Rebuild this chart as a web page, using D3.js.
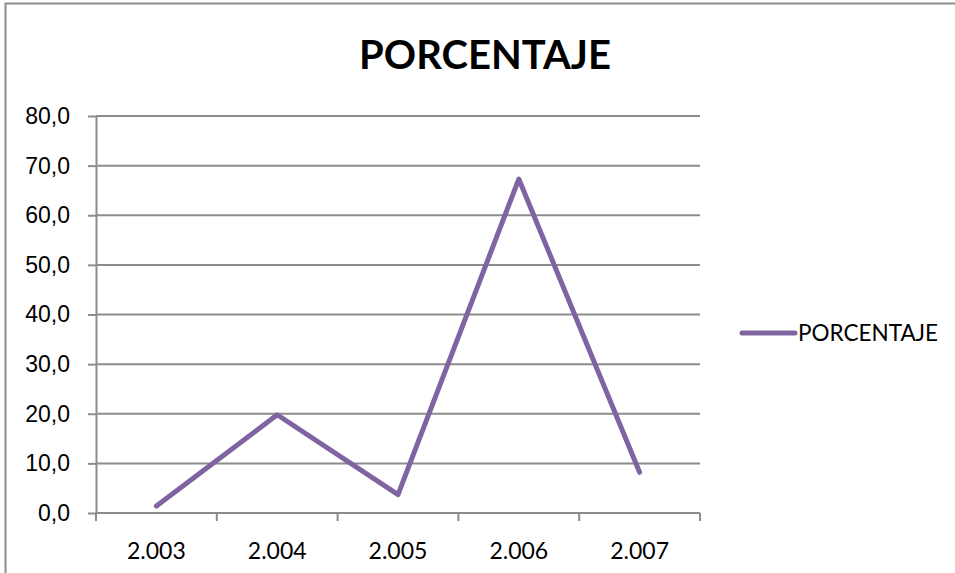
<!DOCTYPE html>
<meta charset="utf-8">
<style>

html, body {
  margin: 0;
  background: #fff;
}

svg {
  display: block;
  font-family: Lato, "Open Sans", sans-serif;
}

.grid line {
  stroke: #8c8c8c;
  stroke-width: 2px;
}

.axis path,
.axis line {
  stroke: #8c8c8c;
  stroke-width: 2px;
}

.axis text {
  fill: #000;
  font-size: 23px;
}

</style>
<svg class="chart"></svg>
<script src="https://d3js.org/d3.v7.min.js"></script>
<script>

var years = ['2.003', '2.004', '2.005', '2.006', '2.007'];
var values = [1.4, 19.8, 3.7, 67.3, 8.2];
var yTicks = [0, 10, 20, 30, 40, 50, 60, 70, 80];

var width = 955;
var height = 573;
var color = '#8064a2';

var plot = {left: 96, right: 700, top: 116, bottom: 513};

var svg = d3.select('svg.chart')
  .attr('width', width)
  .attr('height', height);

// chart border (only left and top edges fall inside the picture)
svg.append('rect')
  .attr('x', 5.5)
  .attr('y', 3.5)
  .attr('width', width + 10)
  .attr('height', height + 10)
  .attr('fill', 'none')
  .attr('stroke', '#8c8c8c')
  .attr('stroke-width', 2);

svg.append('text')
  .attr('x', 485)
  .attr('y', 69)
  .attr('text-anchor', 'middle')
  .attr('font-size', 40)
  .attr('font-weight', 'bold')
  .text('PORCENTAJE');

var x = d3.scaleBand()
  .domain(years)
  .range([plot.left, plot.right]);

var y = d3.scaleLinear()
  .domain([0, 80])
  .range([plot.bottom, plot.top]);

svg.append('g')
  .attr('class', 'grid')
  .selectAll('line')
  .data(yTicks.slice(1))
  .enter().append('line')
  .attr('x1', plot.left)
  .attr('x2', plot.right)
  .attr('y1', function (d) { return y(d); })
  .attr('y2', function (d) { return y(d); });

svg.append('g')
  .attr('class', 'axis')
  .attr('transform', 'translate(' + plot.left + ',0)')
  .call(d3.axisLeft(y)
    .tickValues(yTicks)
    .tickSize(8)
    .tickSizeOuter(0)
    .tickPadding(18)
    .tickFormat(function (d) { return d3.format('.1f')(d).replace('.', ','); }));

// x axis ticks sit on band edges, labels at band centres
var xAxis = svg.append('g')
  .attr('class', 'axis')
  .attr('transform', 'translate(0,' + plot.bottom + ')');

xAxis.append('line')
  .attr('x1', plot.left)
  .attr('x2', plot.right)
  .attr('y1', 0)
  .attr('y2', 0);

xAxis.selectAll('line.tick')
  .data(years.concat(['end']))
  .enter().append('line')
  .attr('class', 'tick')
  .attr('x1', function (d, i) { return plot.left + i * x.bandwidth(); })
  .attr('x2', function (d, i) { return plot.left + i * x.bandwidth(); })
  .attr('y1', 0)
  .attr('y2', 8);

xAxis.selectAll('text')
  .data(years)
  .enter().append('text')
  .attr('x', function (d) { return x(d) + x.bandwidth() / 2; })
  .attr('y', 46)
  .attr('text-anchor', 'middle')
  .text(function (d) { return d; });

var line = d3.line()
  .x(function (d, i) { return x(years[i]) + x.bandwidth() / 2; })
  .y(function (d) { return y(d); });

svg.append('path')
  .datum(values)
  .attr('d', line)
  .attr('fill', 'none')
  .attr('stroke', color)
  .attr('stroke-width', 5)
  .attr('stroke-linecap', 'round')
  .attr('stroke-linejoin', 'round');

// legend
var legend = svg.append('g')
  .attr('transform', 'translate(742,333)');

legend.append('line')
  .attr('x1', 0)
  .attr('x2', 53)
  .attr('stroke', color)
  .attr('stroke-width', 5)
  .attr('stroke-linecap', 'round');

legend.append('text')
  .attr('x', 56)
  .attr('y', 8)
  .attr('font-size', 22.5)
  .text('PORCENTAJE');

</script>
